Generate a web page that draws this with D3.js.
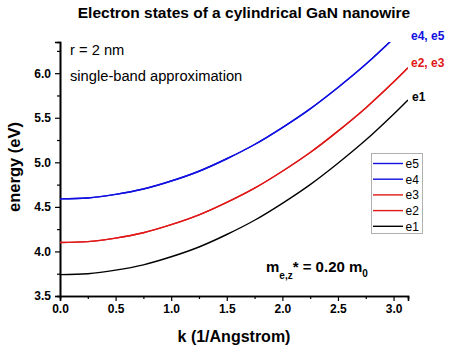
<!DOCTYPE html>
<html><head><meta charset="utf-8">
<script src="https://cdn.jsdelivr.net/npm/d3@7"></script>
<style>body{margin:0;background:#fff}svg{display:block}text{font-family:"Liberation Sans",Arial,sans-serif}</style>
</head><body>
<script>
const kValues = [0, 0.25, 0.5, 0.75, 1.0, 1.25, 1.5, 1.75, 2.0, 2.25, 2.5, 2.75, 3.0, 3.13];
const e1 = [3.74, 3.75, 3.79, 3.85, 3.94, 4.05, 4.19, 4.35, 4.54, 4.75, 4.99, 5.25, 5.54, 5.70];
const e2 = [4.10, 4.11, 4.15, 4.21, 4.30, 4.41, 4.55, 4.71, 4.90, 5.11, 5.35, 5.61, 5.90, 6.06];
const e3 = e2.slice();
const e4 = [4.59, 4.60, 4.64, 4.70, 4.79, 4.90, 5.04, 5.20, 5.39, 5.60, 5.84, 6.10, 6.39, 6.55];
const e5 = e4.slice();
const seriesNames = ["e5", "e4", "e3", "e2", "e1"];
const seriesColors = {e5: "#1010e0", e4: "#1010e0", e3: "#e01818", e2: "#e01818", e1: "#000000"};
const seriesData = {e1, e2, e3, e4, e5};
const xTicks = [0, 0.5, 1.0, 1.5, 2.0, 2.5, 3.0];
const yTicks = [3.5, 4.0, 4.5, 5.0, 5.5, 6.0];

const W = 450, H = 349;
const svg = d3.select("body").append("svg").attr("width", W).attr("height", H);
const x = d3.scaleLinear().domain([0, 3.13]).range([60, 408]);
const y = d3.scaleLinear().domain([3.5, 6.35]).range([296, 42]);

svg.append("defs").append("clipPath").attr("id", "clip")
  .append("rect").attr("x", 60).attr("y", 42).attr("width", 348).attr("height", 254);

// axes
const xAxis = d3.axisBottom(x).tickValues(xTicks).tickFormat(d3.format(".1f")).tickSize(5).tickPadding(3);
const xMinor = d3.axisBottom(x).tickValues(d3.range(0.25, 3.13, 0.5)).tickFormat("").tickSize(3);
const yAxis = d3.axisLeft(y).tickValues(yTicks).tickFormat(d3.format(".1f")).tickSize(5).tickPadding(4);
const yMinor = d3.axisLeft(y).tickValues(d3.range(3.75, 6.35, 0.5)).tickFormat("").tickSize(3);

function styleAxis(g){
  g.select(".domain").attr("stroke", "#000").attr("stroke-width", 1.6);
  g.selectAll(".tick line").attr("stroke", "#000").attr("stroke-width", 1.2);
  g.selectAll(".tick text").attr("font-size", 12).attr("font-weight", "bold").attr("fill", "#000")
    .style("font-family", "Liberation Sans, Arial, sans-serif");
}
svg.append("g").attr("transform", "translate(0,296)").call(xMinor).call(styleAxis);
svg.append("g").attr("transform", "translate(0,296)").call(xAxis).call(styleAxis);
svg.append("g").attr("transform", "translate(60,0)").call(yMinor).call(styleAxis);
svg.append("g").attr("transform", "translate(60,0)").call(yAxis).call(styleAxis);

// curves
const line = d3.line().x((d, i) => x(kValues[i])).y(d => y(d)).curve(d3.curveCatmullRom);
const plot = svg.append("g").attr("clip-path", "url(#clip)");
["e1", "e2", "e3", "e4", "e5"].forEach(n => {
  plot.append("path").datum(seriesData[n]).attr("d", line)
    .attr("fill", "none").attr("stroke", seriesColors[n]).attr("stroke-width", 1.4);
});

// title
svg.append("text").attr("x", 244).attr("y", 18).attr("text-anchor", "middle")
  .attr("font-size", 15.5).attr("font-weight", "bold").text("Electron states of a cylindrical GaN nanowire");

// axis labels
svg.append("text").attr("x", 234).attr("y", 342).attr("text-anchor", "middle")
  .attr("font-size", 16).attr("font-weight", "bold").text("k (1/Angstrom)");
svg.append("text").attr("transform", "translate(20,167) rotate(-90)").attr("text-anchor", "middle")
  .attr("font-size", 16.5).attr("font-weight", "bold").text("energy (eV)");

// annotations
svg.append("text").attr("x", 70).attr("y", 55).attr("font-size", 14.7).text("r = 2 nm");
svg.append("text").attr("x", 70).attr("y", 81).attr("font-size", 14.7).text("single-band approximation");

svg.append("text").attr("x", 411).attr("y", 40).attr("font-size", 12).attr("font-weight", "bold")
  .attr("fill", seriesColors.e4).text("e4, e5");
svg.append("text").attr("x", 411).attr("y", 67).attr("font-size", 12).attr("font-weight", "bold")
  .attr("fill", seriesColors.e2).text("e2, e3");
svg.append("text").attr("x", 412).attr("y", 101).attr("font-size", 12).attr("font-weight", "bold")
  .attr("fill", "#000").text("e1");

const m = svg.append("text").attr("x", 266).attr("y", 272).attr("font-size", 15).attr("font-weight", "bold");
m.append("tspan").text("m");
m.append("tspan").attr("font-size", 10).attr("dy", 7).text("e,z");
m.append("tspan").attr("dy", -7).text("* = 0.20 m");
m.append("tspan").attr("font-size", 10).attr("dy", 5).text("0");

// legend
const lg = svg.append("g");
lg.append("rect").attr("x", 371.5).attr("y", 153.5).attr("width", 51).attr("height", 80)
  .attr("fill", "#fff").attr("stroke", "#b0b0b0").attr("stroke-width", 1);
seriesNames.forEach((n, i) => {
  const yy = 163.5 + i * 15.7;
  lg.append("line").attr("x1", 373).attr("x2", 403).attr("y1", yy).attr("y2", yy)
    .attr("stroke", seriesColors[n]).attr("stroke-width", 1.4);
  lg.append("text").attr("x", 405.5).attr("y", yy + 4.5).attr("font-size", 12).text(n);
});
</script>
</body></html>
